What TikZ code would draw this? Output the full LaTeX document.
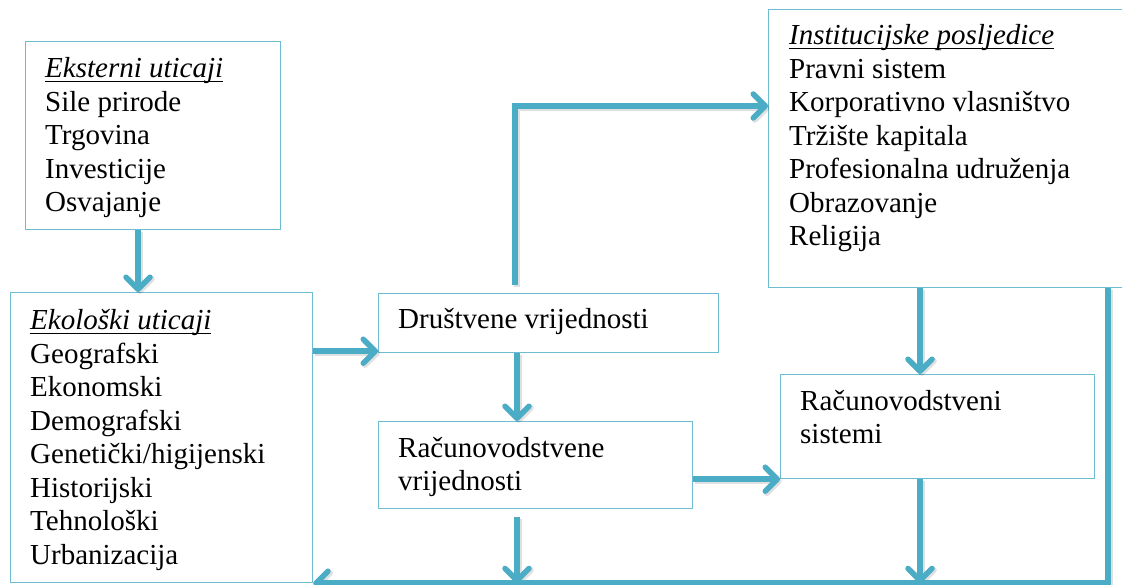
\documentclass[tikz,border=0pt]{standalone}
\usepackage{fontspec}
\setmainfont{Liberation Serif}
\usetikzlibrary{arrows.meta}
\definecolor{flow}{RGB}{75,172,198}
\definecolor{frame}{RGB}{110,188,210}
% italic heading with a rule a little below the baseline
\newcommand\headline[1]{\setbox0\hbox{\itshape #1}\rlap{\rule[-4pt]{\wd0}{1.1pt}}\box0}
\newcommand\stack[1]{\begin{tabular}[t]{@{}l@{}}#1\end{tabular}}

\begin{document}
\begin{tikzpicture}[x=1pt,y=-1pt,
  box/.style={draw=frame, line width=1.2pt, inner sep=0pt, anchor=north west},
  txt/.style={anchor=base west, inner sep=0pt, font=\fontsize{29}{33.5}\selectfont},
  tip/.style={-{Straight Barb[length=12pt,width=24pt,line cap=round,line join=round]}},
  arr/.style={draw=flow, line width=5.5pt, line join=miter, tip,
    preaction={draw=black, draw opacity=0.12, line width=6pt, tip,
      transform canvas={shift={(1.8pt,-1.8pt)}}}}]
\useasboundingbox (0,0) rectangle (1122,585);

% boxes
\node[box, minimum width=255pt, minimum height=188pt] (ext) at (25,41) {};
\node[box, minimum width=302pt, minimum height=290pt] (eco) at (10,292) {};
\node[box, minimum width=340pt, minimum height=59pt]  (dru) at (378,293) {};
\node[box, minimum width=314pt, minimum height=87pt]  (rv)  at (378,421) {};
\node[box, minimum width=360pt, minimum height=278pt] (ins) at (768,9) {};
\node[box, minimum width=314pt, minimum height=104pt] (rs)  at (780,374) {};

% texts
\node[txt] (extT) at (45,78) {\stack{\headline{Eksterni uticaji}\\ Sile prirode\\ Trgovina\\ Investicije\\ Osvajanje}};
\node[txt] (ecoT) at (30,330) {\stack{\headline{Ekološki uticaji}\\ Geografski\\ Ekonomski\\ Demografski\\ Genetički/higijenski\\ Historijski\\ Tehnološki\\ Urbanizacija}};
\node[txt] (druT) at (398,329) {Društvene vrijednosti};
\node[txt] (rvT) at (398,457) {\stack{Računovodstvene\\ vrijednosti}};
\node[txt] (insT) at (789,45) {\stack{\headline{Institucijske posljedice}\\ Pravni sistem\\ Korporativno vlasništvo\\ Tržište kapitala\\ Profesionalna udruženja\\ Obrazovanje\\ Religija}};
\node[txt] (rsT) at (800,410) {\stack{Računovodstveni\\ sistemi}};

% connectors
\coordinate (dIn) at ([yshift=2pt]dru.south west);
\coordinate (rvOut) at ([xshift=139pt,yshift=-8pt]rv.south west);
\coordinate (rsOut) at ([xshift=140pt]rs.south west);

\draw[arr] ([xshift=113pt]ext.south west) -- ([xshift=128pt]eco.north west);
\draw[arr] (eco.east |- dIn) -- (dIn);
\draw[arr] ([xshift=139pt]dru.south west) -- ([xshift=139pt]rv.north west);
\draw[arr] ([xshift=137pt,yshift=8pt]dru.north west) |- ([yshift=-97pt]ins.north west);
\draw[arr] ([xshift=152pt]ins.south west) -- ([xshift=140pt]rs.north west);
\draw[arr] (rv.east |- rs.south west) -- (rs.south west);
\draw[arr] (rvOut) -- (rvOut |- eco.south);
\draw[arr] (rsOut) -- (rsOut |- eco.south);
\draw[arr] ([xshift=340pt]ins.south west) |- (eco.south east);
\end{tikzpicture}
\end{document}
